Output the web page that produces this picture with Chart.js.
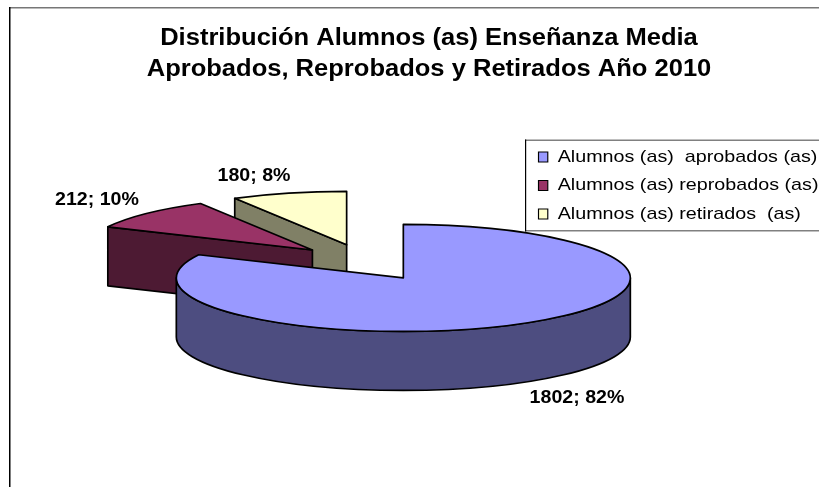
<!DOCTYPE html>
<html>
<head>
<meta charset="utf-8">
<script src="https://cdn.jsdelivr.net/npm/chart.js@4"></script>
<style>html,body{margin:0;padding:0;background:#fff}canvas{display:block}</style>
</head>
<body>
<div style="width:819px;height:487px"><canvas id="c"></canvas></div>
<script>
const titleLines = ['Distribución Alumnos (as) Enseñanza Media', 'Aprobados, Reprobados y Retirados Año 2010'];
const categories = ['Alumnos (as)  aprobados (as)', 'Alumnos (as) reprobados (as)', 'Alumnos (as) retirados  (as)'];
const values = [1802, 212, 180];
const topColors = ['#9999ff', '#993366', '#ffffcc'];
const sideColors = ['#4d4d80', '#4d1a33', '#808066'];
const labelCenters = [[577, 398], [97, 200], [254, 176]];

const FONT = '"Liberation Sans", Arial, sans-serif';
const PIE = { cx: 365, cy: 262.5, radius: 227, squash: 53.5 / 227, depth: 59, explode: 72, explodeY: 77.5 };
const total = values.reduce((a, b) => a + b, 0);

// The reference text is stretched horizontally; wrap a layout box's draw in that stretch.
function withStretch(box, c, anchorX, sx) {
  const draw = box.draw;
  box.draw = function (...args) {
    c.save();
    c.translate(anchorX, 0);
    c.scale(sx, 1);
    c.translate(-anchorX, 0);
    draw.apply(this, args);
    c.restore();
  };
  box.__stretched = true;
}

const layoutPlugin = {
  id: 'fixedLayout',
  afterLayout(chart) {
    const a = chart.chartArea, hw = 240, hh = 240;
    a.left = PIE.cx - hw; a.right = PIE.cx + hw; a.top = PIE.cy - hh; a.bottom = PIE.cy + hh;
    a.width = hw * 2; a.height = hh * 2;
    const t = chart.titleBlock;
    t.left = 39; t.right = 819; t.top = 23;
    const l = chart.legend;
    l.left = 527; l.right = 900; l.top = 137; l.bottom = 240;
    if (!t.__stretched) withStretch(t, chart.ctx, 429, 1.11);
    if (!l.__stretched) withStretch(l, chart.ctx, 538.5, 1.16);
  }
};

const framePlugin = {
  id: 'frames',
  beforeDraw(chart) {
    const c = chart.ctx;
    c.save();
    c.fillStyle = '#fff';
    c.fillRect(0, 0, chart.width, chart.height);
    c.fillStyle = '#777';
    c.fillRect(9, 7, 810, 1.5);
    c.fillStyle = '#000';
    c.fillRect(9, 7, 1.5, 480);
    c.fillStyle = '#808080';
    c.fillRect(525, 139.5, 294, 1.5);
    c.fillRect(525, 230, 294, 1.5);
    c.fillStyle = '#000';
    c.fillRect(525, 139.5, 1.2, 92);
    c.restore();
  }
};

const pie3dPlugin = {
  id: 'pie3d',
  beforeDatasetDraw(chart, args) {
    const c = chart.ctx, arcs = args.meta.data, k = PIE.squash, d = PIE.depth;
    for (let i = arcs.length - 1; i >= 0; i--) {
      const arc = arcs[i];
      const { x, y, startAngle: a0, endAngle: a1, outerRadius: r } = arc;
      const mid = (a0 + a1) / 2;
      const ex = x + Math.cos(mid) * PIE.explode;
      const ey = y + Math.sin(mid) * PIE.explodeY * k;
      c.save();
      c.lineWidth = 1.7;
      c.lineJoin = 'round';
      c.strokeStyle = '#000';
      c.fillStyle = sideColors[i];
      const face = (ang) => {
        const px = ex + r * Math.cos(ang), py = ey + r * k * Math.sin(ang);
        c.beginPath();
        c.moveTo(ex, ey); c.lineTo(px, py); c.lineTo(px, py + d); c.lineTo(ex, ey + d);
        c.closePath(); c.fill(); c.stroke();
      };
      if (Math.sin(a1 + Math.PI / 2) > 1e-6) face(a1);
      if (Math.sin(a0 - Math.PI / 2) > 1e-6) face(a0);
      const s = Math.max(a0, 0), e = Math.min(a1, Math.PI);
      if (e > s) {
        c.beginPath();
        c.ellipse(ex, ey, r, r * k, 0, s, e);
        c.ellipse(ex, ey + d, r, r * k, 0, e, s, true);
        c.closePath(); c.fill(); c.stroke();
      }
      c.save();
      c.translate(ex, ey);
      c.scale(1, k);
      c.translate(-x, -y);
      arc.draw(c);
      c.restore();
      c.beginPath();
      c.moveTo(ex, ey);
      c.ellipse(ex, ey, r, r * k, 0, a0, a1);
      c.closePath();
      c.stroke();
      c.restore();
    }
    return false;
  },
  afterDatasetsDraw(chart) {
    const c = chart.ctx;
    values.forEach((v, i) => {
      c.save();
      c.font = 'bold 17.5px ' + FONT;
      c.fillStyle = '#000';
      c.textAlign = 'center';
      c.textBaseline = 'middle';
      c.translate(labelCenters[i][0], labelCenters[i][1]);
      c.scale(1.12, 1);
      c.fillText(v + '; ' + Math.round(v / total * 100) + '%', 0, 0);
      c.restore();
    });
  }
};

new Chart(document.getElementById('c'), {
  type: 'pie',
  data: {
    labels: categories,
    datasets: [{ data: values, backgroundColor: topColors, borderWidth: 0 }]
  },
  options: {
    responsive: true,
    maintainAspectRatio: false,
    animation: false,
    radius: PIE.radius,
    plugins: {
      tooltip: { enabled: false },
      title: {
        display: true,
        text: titleLines,
        color: '#000',
        padding: 0,
        font: { family: FONT, size: 23, weight: 'bold', lineHeight: 31 / 23 }
      },
      legend: {
        display: true,
        position: 'right',
        align: 'start',
        labels: {
          color: '#000',
          boxWidth: 8,
          boxHeight: 10,
          padding: 11.5,
          font: { family: FONT, size: 17 },
          generateLabels: () => categories.map((text, i) => ({
            text, fillStyle: topColors[i], strokeStyle: '#000', lineWidth: 1, index: i, hidden: false, fontColor: '#000'
          }))
        }
      }
    }
  },
  plugins: [layoutPlugin, framePlugin, pie3dPlugin]
});
</script>
</body>
</html>
